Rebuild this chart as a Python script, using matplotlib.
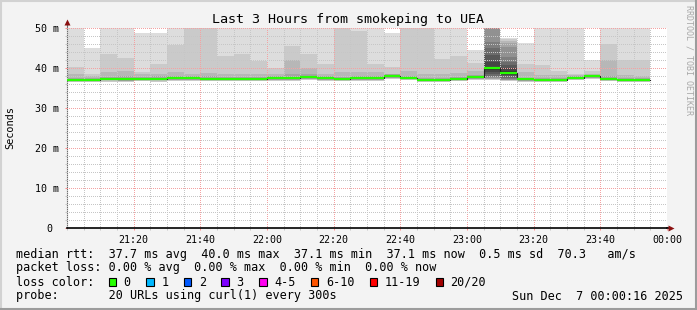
import matplotlib
matplotlib.use("Agg")
import matplotlib.pyplot as plt
from matplotlib.lines import Line2D
from matplotlib.patches import Rectangle
from matplotlib.ticker import MultipleLocator
import numpy as np

plt.rcParams["font.family"] = ["DejaVu Sans Mono", "DejaVu Sans"]

# --- data: one value per 5-minute round, 21:00 .. 23:55 -------------------
start_hour = 21
round_min = 5

median = [37.05, 37.05, 37.3, 37.3, 37.3, 37.3, 37.5, 37.5, 37.3, 37.3, 37.3, 37.3,
          37.5, 37.5, 37.7, 37.5, 37.3, 37.45, 37.4, 37.95, 37.6, 37.1, 37.0, 37.3,
          37.7, 39.9, 38.8, 37.2, 37.1, 37.1, 37.5, 37.9, 37.3, 37.1, 37.05]
# smoke layers (upper edges), outermost first; 50 = clipped at top of graph
ping_max = [50, 45.0, 50, 50, 48.8, 48.8, 50, 50, 50, 50, 50, 50, 50, 50, 50, 50, 50, 50,
            50, 48.8, 50, 50, 50, 50, 44.6, 50, 47.5, 46.2, 50, 50, 50, 42.1, 50, 50, 50]
ping_q2 = [40.2, 38.4, 43.6, 42.5, 39.0, 41.1, 45.8, 50, 50, 43.1, 43.5, 41.7, 40.0,
           45.6, 43.5, 41.0, 50, 49.3, 41.0, 40.2, 50, 50, 42.2, 43.1, 41.2, 50, 47.2,
           41.1, 40.7, 39.2, 38.6, 39.3, 46.0, 42.1, 42.1]
ping_q3 = [38.6, 38.0, 38.9, 39.2, 38.5, 38.6, 38.9, 38.6, 38.7, 38.5, 38.5, 38.4, 38.5,
           42.1, 40.0, 38.6, 38.9, 39.0, 38.9, 38.6, 39.3, 38.5, 38.6, 38.8, 39.3, 50, 46.8,
           39.0, 38.3, 38.2, 38.3, 38.6, 42.1, 38.2, 38.1]
ping_q4 = [37.6, 37.5, 37.8, 37.9, 37.7, 37.9, 38.1, 38.0, 37.9, 37.7, 37.8, 37.7, 37.9,
           38.4, 38.4, 37.9, 37.8, 38.0, 37.9, 38.4, 38.1, 37.5, 37.5, 37.8, 38.2, 50, 46.3,
           37.6, 37.6, 37.5, 37.9, 38.3, 38.0, 37.5, 37.4]
# lower edges
ping_lo4 = [36.8, 36.8, 36.9, 36.7, 37.0, 36.9, 37.1, 37.0, 37.0, 37.0, 37.0, 37.0, 37.1,
            37.0, 37.3, 37.1, 37.0, 37.1, 37.0, 37.5, 37.2, 36.7, 36.7, 37.0, 37.3, 37.2,
            37.0, 36.8, 36.8, 36.8, 37.2, 37.5, 37.0, 36.8, 36.7]
ping_min = [36.5, 36.5, 36.6, 36.5, 36.7, 36.6, 36.8, 36.7, 36.7, 36.7, 36.7, 36.7, 36.8,
            36.7, 37.0, 36.8, 36.7, 36.8, 36.7, 37.2, 36.9, 36.5, 36.5, 36.7, 37.0, 37.0,
            36.8, 36.5, 36.5, 36.5, 36.9, 37.2, 36.7, 36.5, 36.5]

# the 23:05 / 23:10 rounds show the inner layers 5..10 as well
burst_rounds = [25, 26]
burst_top = [[50, 46.6, 44.9, 43.25, 41.6, 40.3],
             [45.3, 42.8, 41.6, 40.75, 39.9, 39.3]]
burst_bot = [[37.4, 37.7, 38.0, 38.5, 39.0, 39.5],
             [37.1, 37.3, 37.6, 37.9, 38.2, 38.5]]

layer_colors = ["#dddddd", "#cacaca", "#b7b7b7", "#a4a4a4"]
burst_colors = ["#919191", "#7e7e7e", "#6b6b6b", "#585858", "#454545", "#323232"]

x_ticks = [20, 40, 60, 80, 100, 120, 140, 160, 180]
x_labels = ["21:20", "21:40", "22:00", "22:20", "22:40", "23:00", "23:20", "23:40", "00:00"]
y_ticks = [0, 10, 20, 30, 40, 50]
y_labels = ["0 ", "10 m", "20 m", "30 m", "40 m", "50 m"]

loss_labels = ["0", "1", "2", "3", "4-5", "6-10", "11-19", "20/20"]
loss_colors = ["#26ff00", "#00b8ff", "#0059ff", "#7e00ff", "#ff00f0", "#ff5500",
               "#ff0000", "#a10000"]

legend_rtt = ("median rtt:  37.7 ms avg  40.0 ms max  37.1 ms min  37.1 ms now"
              "  0.5 ms sd  70.3   am/s")
legend_loss = "packet loss: 0.00 % avg  0.00 % max  0.00 % min  0.00 % now"
legend_probe = "probe:       20 URLs using curl(1) every 300s"
stamp = "Sun Dec  7 00:00:16 2025"

# --- figure ---------------------------------------------------------------
W, H = 697, 310
fig = plt.figure(figsize=(W / 100, H / 100), dpi=100)
fig.patch.set_facecolor("#f3f3f3")


def fx(px):
    return px / W


def fy(py):
    return 1 - py / H


ax = fig.add_axes([fx(67), fy(228), 600 / W, 200 / H])
ax.set_facecolor("white")

n = len(median)
starts = np.arange(n) * round_min
for lo, hi, col in [(ping_min, ping_max, layer_colors[0]),
                    (ping_min, ping_q2, layer_colors[1]),
                    (ping_lo4, ping_q3, layer_colors[2]),
                    (ping_lo4, ping_q4, layer_colors[3])]:
    lo = np.array(lo)
    ax.bar(starts, np.array(hi) - lo, bottom=lo, width=round_min, align="edge",
           color=col, linewidth=0, zorder=1)
for i, r in enumerate(burst_rounds):
    for top, bot, col in zip(burst_top[i], burst_bot[i], burst_colors):
        ax.bar(starts[r], top - bot, bottom=bot, width=round_min, align="edge",
               color=col, linewidth=0, zorder=1)

# median: dark step line, then the loss-coloured band
sx = np.append(starts, starts[-1] + round_min)
sy = np.append(median, median[-1])
ax.step(sx, sy, where="post", color="#202020", lw=0.8, zorder=3)
ax.hlines(median, starts, starts + round_min, color=loss_colors[0], lw=1.6,
          zorder=4, capstyle="butt")

ax.set_xlim(0, 180)
ax.set_ylim(0, 50)
ax.set_xticks(x_ticks, x_labels)
ax.set_yticks(y_ticks, y_labels)
ax.xaxis.set_minor_locator(MultipleLocator(5))
ax.yaxis.set_minor_locator(MultipleLocator(2))
ax.set_axisbelow(False)
# 1px-on / 1px-off dots; the half-pixel offset keeps them on the pixel grid
ax.grid(which="minor", color="#c6c6c6", lw=0.72, ls=(0.5, (1, 1)))
ax.grid(which="major", color="#f4a2a2", lw=0.72, ls=(0.5, (1, 1)))
ax.tick_params(which="major", length=1.5, width=0.72, color="#ff9090",
               labelsize=7.2, pad=3.2)
ax.tick_params(which="minor", length=1.5, width=0.72, color="#c6c6c6")
ax.tick_params(axis="y", pad=4.0)
for s in ["top", "right"]:
    ax.spines[s].set_visible(False)
ax.spines["left"].set_color("#707070")
ax.spines["left"].set_linewidth(0.8)
ax.spines["bottom"].set_color("black")
ax.spines["bottom"].set_linewidth(1.2)
ax.spines["bottom"].set_zorder(5)

# axis extensions with arrows
ax.plot([0, 0], [1, 1.03], transform=ax.transAxes, color="#707070", lw=0.8,
        clip_on=False)
ax.plot([1, 1.005], [0, 0], transform=ax.transAxes, color="black", lw=1.2,
        clip_on=False)
ax.plot([0], [1.032], transform=ax.transAxes, marker="^", ms=4.2, color="#8b1010",
        clip_on=False, mec="none")
ax.plot([1.006], [0], transform=ax.transAxes, marker=">", ms=4.2, color="#8b1010",
        clip_on=False, mec="none")

# titles
fig.text(0.5, fy(19), "Last 3 Hours from smokeping to UEA", ha="center", va="center",
         fontsize=9.6)
fig.text(fx(10), fy(128), "Seconds", rotation=90, ha="center", va="center", fontsize=7.4)
fig.text(fx(688.5), fy(60), "RRDTOOL / TOBI OETIKER", rotation=-90, ha="center",
         va="center", fontsize=6, color="#a8a8a8")

# legend block
lx = fx(16)
fig.text(lx, fy(254.5), legend_rtt, ha="left", va="center", fontsize=8.5)
fig.text(lx, fy(268), legend_loss, ha="left", va="center", fontsize=8.5)
fig.text(lx, fy(282), "loss color:", ha="left", va="center", fontsize=8.5)
fig.text(lx, fy(296), legend_probe, ha="left", va="center", fontsize=8.5)
fig.text(fx(683), fy(296), stamp, ha="right", va="center", fontsize=8.5)

cw = 7.05
bx = 108.5
for lab, col in zip(loss_labels, loss_colors):
    fig.add_artist(Rectangle((fx(bx), fy(286)), 7.5 / W, 8 / H, transform=fig.transFigure,
                             facecolor=col, edgecolor="black", lw=0.8))
    fig.text(fx(bx + 15), fy(282), lab, ha="left", va="center", fontsize=8.5)
    bx += 15.3 + len(lab) * cw + 15.3

# 3D frame
fig.add_artist(Line2D([0, 1], [fy(1), fy(1)], transform=fig.transFigure, color="#d2d2d2", lw=1.5))
fig.add_artist(Line2D([fx(1), fx(1)], [0, 1], transform=fig.transFigure, color="#d2d2d2", lw=1.5))
fig.add_artist(Line2D([0, 1], [fy(309), fy(309)], transform=fig.transFigure, color="#9c9c9c", lw=1.5))
fig.add_artist(Line2D([fx(696), fx(696)], [0, 1], transform=fig.transFigure, color="#9c9c9c", lw=1.5))

fig.savefig("out.png", dpi=100, facecolor=fig.get_facecolor())
